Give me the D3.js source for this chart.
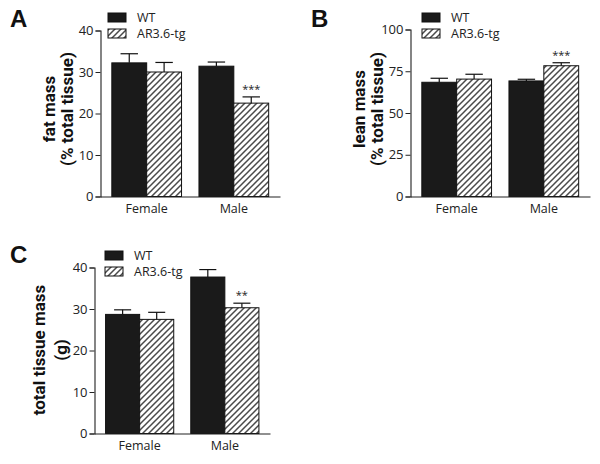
<!DOCTYPE html>
<html>
<head>
<meta charset="utf-8">
<script src="https://cdn.jsdelivr.net/npm/d3@7"></script>
<style>
  body { margin: 0; background: #fff; }
  svg { display: block; }
</style>
</head>
<body>
<svg id="fig" width="600" height="464"></svg>
<script>
// data
var groups = ["Female", "Male"];
var series = ["WT", "AR3.6-tg"];

var fatMean = [[32.2, 30.0], [31.4, 22.5]];
var fatErr  = [[2.2, 2.3], [1.0, 1.5]];
var fatStars = [["", ""], ["", "***"]];

var leanMean = [[68.4, 70.3], [69.2, 78.3]];
var leanErr  = [[2.4, 2.9], [1.0, 1.8]];
var leanStars = [["", ""], ["", "***"]];

var totalMean = [[28.7, 27.5], [37.7, 30.3]];
var totalErr  = [[1.1, 1.7], [1.8, 1.1]];
var totalStars = [["", ""], ["", "**"]];

var fatTicks = [0, 10, 20, 30, 40];
var leanTicks = [0, 25, 50, 75, 100];
var totalTicks = [0, 10, 20, 30, 40];

var bodyFont = "'Open Sans', sans-serif";

var svg = d3.select("#fig");

var defs = svg.append("defs");
var pat = defs.append("pattern")
    .attr("id", "hatch")
    .attr("patternUnits", "userSpaceOnUse")
    .attr("width", 6)
    .attr("height", 6);
pat.append("rect").attr("width", 6).attr("height", 6).attr("fill", "#fff");
pat.append("path")
    .attr("d", "M-1,1 l2,-2 M0,6 l6,-6 M5,7 l2,-2")
    .attr("stroke", "#4a4a4a")
    .attr("stroke-width", 1.5);

function panel(opts) {
  var g = svg.append("g");

  var x = d3.scaleBand()
      .domain(groups)
      .range(opts.xr)
      .paddingInner(0.2)
      .paddingOuter(0.13);
  var xs = d3.scaleBand()
      .domain(series)
      .range([0, x.bandwidth()]);
  var y = d3.scaleLinear()
      .domain([0, opts.max])
      .range(opts.yr);

  // bars
  groups.forEach(function (grp, i) {
    series.forEach(function (s, j) {
      var v = opts.mean[i][j], e = opts.err[i][j];
      var bx = x(grp) + xs(s), bw = xs.bandwidth();
      g.append("rect")
        .attr("x", bx)
        .attr("y", y(v))
        .attr("width", bw)
        .attr("height", y(0) - y(v))
        .attr("fill", j == 0 ? "#1a1a1a" : "url(#hatch)")
        .attr("stroke", "#111")
        .attr("stroke-width", 1);
      var cx = bx + bw / 2;
      g.append("line")
        .attr("x1", cx).attr("x2", cx)
        .attr("y1", y(v)).attr("y2", y(v + e))
        .attr("stroke", "#111").attr("stroke-width", 1.2);
      g.append("line")
        .attr("x1", cx - bw / 4).attr("x2", cx + bw / 4)
        .attr("y1", y(v + e)).attr("y2", y(v + e))
        .attr("stroke", "#111").attr("stroke-width", 1.2);
      if (opts.stars[i][j]) {
        g.append("text")
          .attr("x", cx)
          .attr("y", y(v + e) - 4)
          .attr("text-anchor", "middle")
          .style("font-family", bodyFont)
          .style("font-size", "11px")
          .attr("fill", "#222")
          .text(opts.stars[i][j]);
      }
    });
  });

  // y axis
  var ya = g.append("g")
      .attr("transform", "translate(" + opts.xr[0] + ",0)")
      .call(d3.axisLeft(y).tickValues(opts.ticks).tickSize(5).tickPadding(2));
  ya.select(".domain").attr("stroke", "#222").attr("stroke-width", 1.1);
  ya.selectAll(".tick line").attr("stroke", "#222");
  ya.selectAll(".tick text")
    .style("font-family", bodyFont)
    .style("font-size", "13px")
    .attr("fill", "#222");

  // x axis
  var xa = g.append("g")
      .attr("transform", "translate(0," + opts.yr[0] + ")")
      .call(d3.axisBottom(x).tickSize(0).tickPadding(8));
  xa.select(".domain").attr("stroke", "#222").attr("stroke-width", 1.1);
  xa.selectAll(".tick text")
    .style("font-family", bodyFont)
    .style("font-size", "12.5px")
    .attr("fill", "#222");

  // y label
  opts.ylab.forEach(function (t, k) {
    g.append("text")
      .attr("transform", "translate(" + opts.labx[k] + "," + opts.laby + ") rotate(-90)")
      .attr("text-anchor", "middle")
      .style("font-family", "Roboto, sans-serif")
      .style("font-size", "17px")
      .style("font-weight", "bold")
      .attr("fill", "#111")
      .text(t);
  });

  // panel letter
  g.append("text")
    .attr("x", opts.letter[0])
    .attr("y", opts.letter[1])
    .style("font-family", "'Liberation Sans', Arial, sans-serif")
    .style("font-size", "24px")
    .style("font-weight", "bold")
    .attr("fill", "#111")
    .text(opts.name);

  // legend
  series.forEach(function (s, j) {
    var ly = opts.leg[1] + j * 16;
    g.append("rect")
      .attr("x", opts.leg[0])
      .attr("y", ly)
      .attr("width", 18)
      .attr("height", 9)
      .attr("fill", j == 0 ? "#1a1a1a" : "url(#hatch)")
      .attr("stroke", "#111")
      .attr("stroke-width", 1);
    g.append("text")
      .attr("x", opts.leg[0] + 29)
      .attr("y", ly + 9)
      .style("font-family", bodyFont)
      .style("font-size", "12.5px")
      .attr("fill", "#222")
      .text(s);
  });
}

panel({
  name: "A", letter: [10, 27],
  mean: fatMean, err: fatErr, stars: fatStars, ticks: fatTicks, max: 40,
  xr: [100.5, 280], yr: [196.5, 30.5],
  ylab: ["fat mass", "(% total tissue)"], labx: [55, 73], laby: 109,
  leg: [108, 13]
});

panel({
  name: "B", letter: [311, 27],
  mean: leanMean, err: leanErr, stars: leanStars, ticks: leanTicks, max: 100,
  xr: [410.5, 590], yr: [196.5, 29.5],
  ylab: ["lean mass", "(% total tissue)"], labx: [365, 383], laby: 109,
  leg: [422, 13]
});

panel({
  name: "C", letter: [10, 263],
  mean: totalMean, err: totalErr, stars: totalStars, ticks: totalTicks, max: 40,
  xr: [94.5, 270], yr: [433.5, 267.5],
  ylab: ["total tissue mass", "(g)"], labx: [45, 67], laby: 350,
  leg: [105, 251]
});
</script>
</body>
</html>
